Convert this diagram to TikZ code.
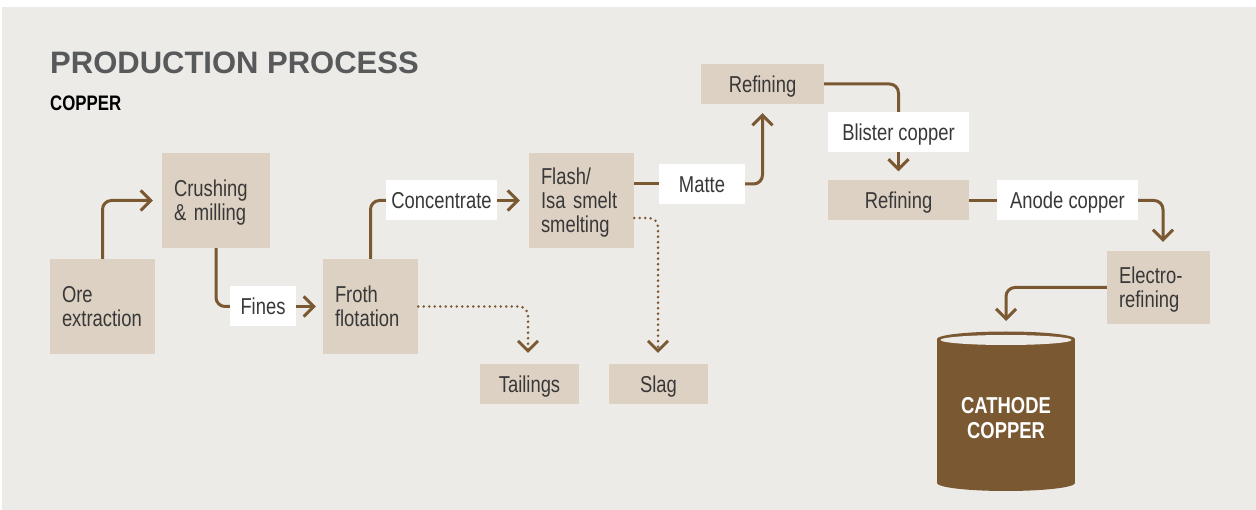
\documentclass[tikz,border=0pt]{standalone}
\usepackage{fontspec}
\setmainfont{Liberation Sans}[FakeStretch=0.8]
\newfontfamily\headfont{Liberation Sans}
\usepackage{tikz}
\usetikzlibrary{arrows.meta, calc, positioning}
\definecolor{cu-bg}{HTML}{EDEBE7}
\definecolor{cu-box}{HTML}{DDD1C3}
\definecolor{cu-brown}{HTML}{7A5832}
\definecolor{cu-ink}{HTML}{383838}
\definecolor{cu-head}{HTML}{58595B}

\tikzset{
  stage/.style={fill=cu-box, text=cu-ink, inner xsep=12pt, inner ysep=0pt,
    align=left, font=\fontsize{23}{24}\selectfont},
  twolines/.style={text height=16.5pt, text depth=24pt},
  threelines/.style={text height=16.5pt, text depth=48pt},
  oneline/.style={align=center, text height=16.5pt, text depth=0pt},
  tag/.style={fill=white, text=cu-ink, inner sep=0pt, oneline,
    minimum height=40pt, font=\fontsize{23}{24}\selectfont},
  flow/.style={draw=cu-brown, line width=3pt, rounded corners=9pt},
  waste/.style={flow, line width=2.8pt, dash pattern=on 0pt off 5.5pt, line cap=round},
}

\begin{document}
\begin{tikzpicture}[x=1pt, y=-1pt, >={Straight Barb[length=10pt, width=20pt]}]
  \useasboundingbox (0,0) rectangle (1256,510);
  \fill[cu-bg] (2,7) rectangle (1256,510);
  % overskrift
  \node[anchor=base west, inner sep=0pt, text=cu-head, font=\headfont\bfseries\fontsize{31}{32}\selectfont]
    (title) at (50,74) {PRODUCTION PROCESS};
  \node[anchor=base west, inner sep=0pt, text=black, font=\bfseries\fontsize{21}{22}\selectfont]
    (metal) at (50,111) {COPPER};
  % trin
  \node[stage, twolines, minimum height=95pt, text width=81pt] (ore) at (102.5,306.5) {Ore\\extraction};
  \node[stage, twolines, minimum height=95pt, text width=84pt] (crush) at (216,200.5) {Crushing\\\& milling};
  \node[stage, twolines, minimum height=95pt, text width=71pt] (froth) at (370.5,306.5) {Froth\\flotation};
  \node[stage, threelines, minimum height=95pt, text width=81pt] (flash) at (581.5,200.5) {Flash/\\Isa smelt\\smelting};
  \node[stage, oneline, minimum width=99pt, minimum height=40pt] (tail) at (529.5,384) {Tailings};
  \node[stage, oneline, minimum width=99pt, minimum height=40pt] (slag) at (658.5,384) {Slag};
  \node[stage, oneline, minimum width=123pt, minimum height=40pt] (ref1) at (762.5,84) {Refining};
  \node[stage, oneline, minimum width=141pt, minimum height=40pt] (ref2) at (898.5,200.5) {Refining};
  \node[stage, twolines, minimum height=73pt, text width=79pt] (elec) at (1158.5,287.5) {Electro-\\refining};
  % mellemprodukter
  \node[tag, minimum width=66pt] (fines) at (263,306.5) {Fines};
  \node[tag, minimum width=111pt] (conc) at (441.5,200.5) {Concentrate};
  \node[tag, minimum width=86pt] (matte) at (702,184) {Matte};
  \node[tag, minimum width=141pt] (blister) at (898.5,132) {Blister copper};
  \node[tag, minimum width=141pt] (anode) at (1067.5,200.5) {Anode copper};
  % tromle
  \fill[cu-brown] (937,339) rectangle (1075,483);
  \fill[cu-brown] (1006,483) ellipse (69 and 8);
  \fill[cu-brown] (1006,339) ellipse (69 and 7.5);
  \fill[cu-bg] (1006,340) ellipse (65.5 and 5);
  \coordinate (cyltop) at (1006,331);
  \node[text=white, align=center, inner sep=0pt, font=\bfseries\fontsize{23}{25}\selectfont]
    (cathode) at (1006,418) {CATHODE\\COPPER};
  % pile
  \draw[flow, ->] (ore.north) |- ($(crush.west)+(-9,0)$);
  \draw[flow] (crush.south) |- (fines.west);
  \draw[flow, ->] (fines.east) -- ($(froth.west)+(-7,0)$);
  \draw[flow] (froth.north) |- (conc.west);
  \draw[flow, ->] (conc.east) -- ($(flash.west)+(-9,0)$);
  \draw[flow] (matte.west -| flash.east) -- (matte.west);
  \draw[flow, ->] (matte.east) -| ($(ref1.south)+(0,9)$);
  \draw[flow] (ref1.east) -| (blister.north);
  \draw[flow, ->] (blister.south) -- ($(ref2.north)+(0,-9)$);
  \draw[flow] (ref2.east) -- (anode.west);
  \draw[flow, ->] (anode.east) -| ($(elec.north)+(4.5,-9)$);
  \draw[flow, ->] (elec.west) -| ($(cyltop)+(0,-10)$);
  % affald
  \draw[waste, ->] (froth.east) -| ($(tail.north)+(-1.5,-11)$);
  \draw[waste, ->] ($(flash.east)+(0,17.5)$) -| ($(slag.north)+(-0.5,-11)$);
\end{tikzpicture}
\end{document}
